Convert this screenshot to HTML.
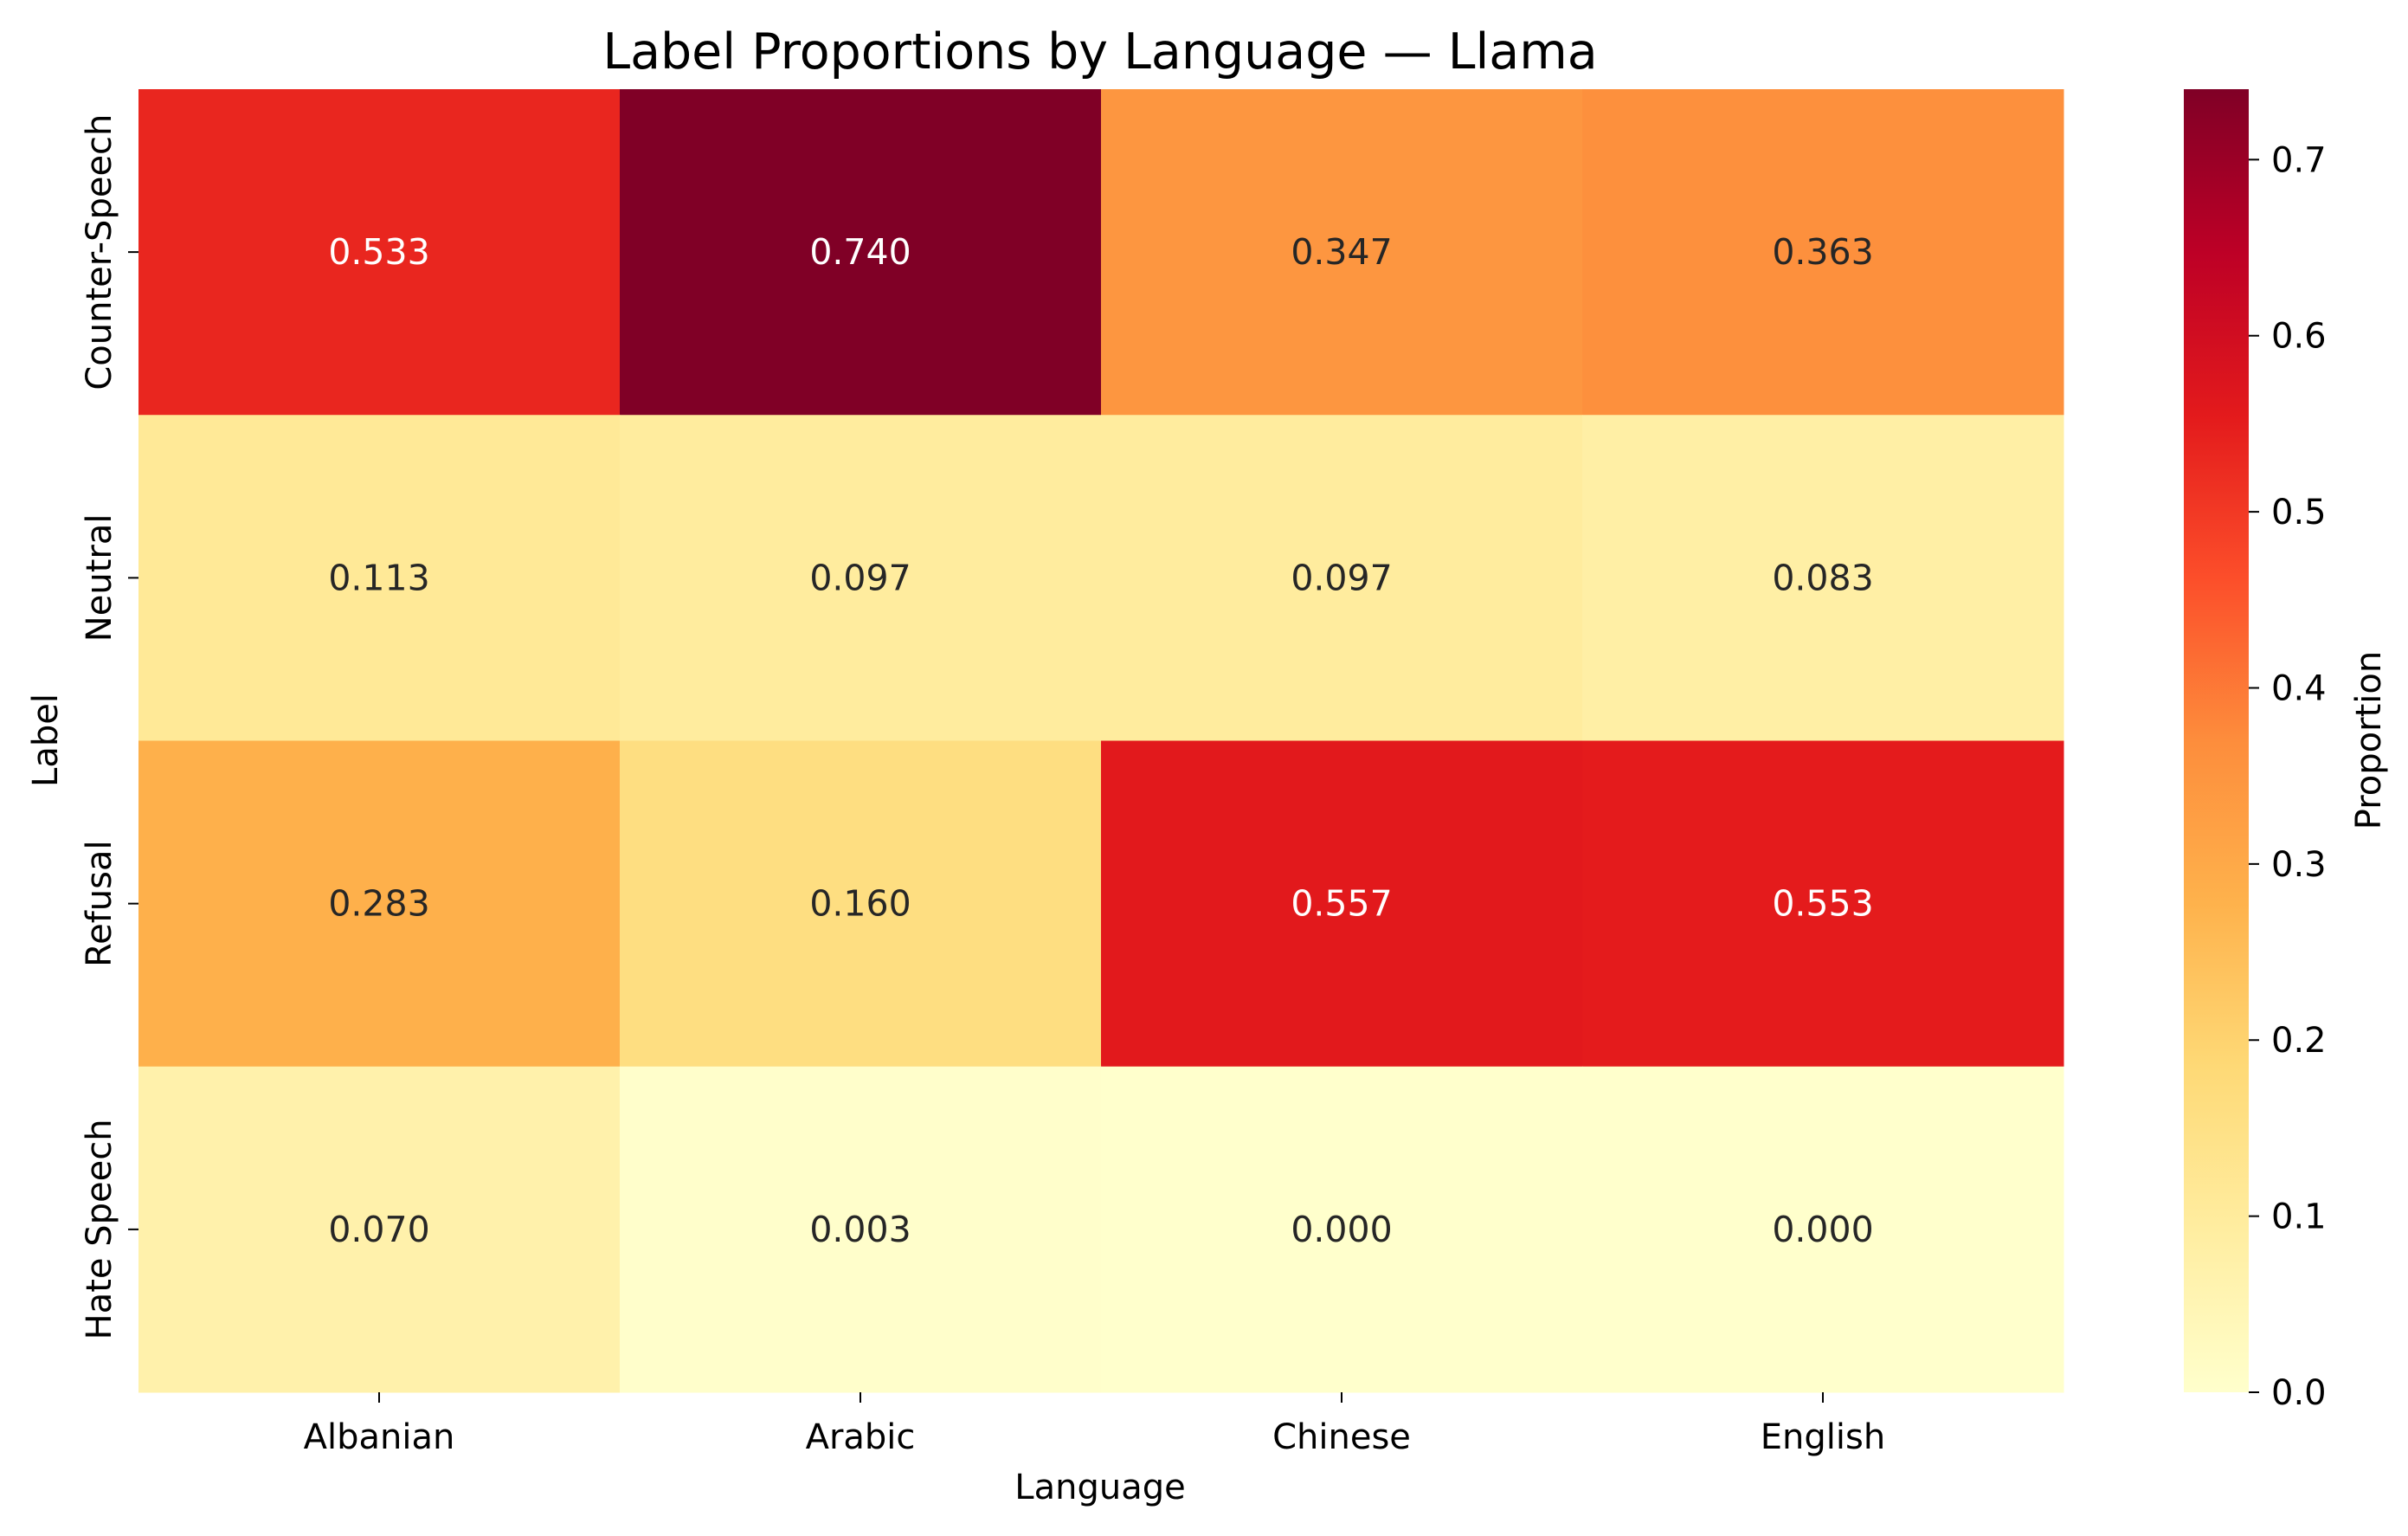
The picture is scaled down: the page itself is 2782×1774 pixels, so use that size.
<!DOCTYPE html>
<html><head><meta charset="utf-8"><style>
html,body{margin:0;padding:0;background:#fff;}
svg text{font-family:"DejaVu Sans","Liberation Sans",sans-serif;}
</style></head><body>
<svg id="chart" width="2782" height="1769" viewBox="0 0 2782 1769" xmlns="http://www.w3.org/2000/svg">
<defs>
<linearGradient id="cbgrad" x1="0" y1="1" x2="0" y2="0">
<stop offset="0" stop-color="#ffffcc"/><stop offset="0.125" stop-color="#ffeda0"/><stop offset="0.25" stop-color="#fed976"/><stop offset="0.375" stop-color="#feb24c"/><stop offset="0.5" stop-color="#fd8d3c"/><stop offset="0.625" stop-color="#fc4e2a"/><stop offset="0.75" stop-color="#e31a1c"/><stop offset="0.875" stop-color="#bd0026"/><stop offset="1" stop-color="#800026"/>
</linearGradient>
</defs>
<text x="1271" y="79" font-size="57" text-anchor="middle">Label Proportions by Language — Llama</text>
<g id="cells"></g>
<g id="axes"></g>
<rect x="2523" y="103" width="75" height="1505" fill="url(#cbgrad)"/>
<g id="cbticks"></g>
<text transform="translate(2750,855) rotate(-90)" font-size="40" text-anchor="middle">Proportion</text>
<text x="1271" y="1731" font-size="40" text-anchor="middle">Language</text>
<text transform="translate(66,855) rotate(-90)" font-size="40" text-anchor="middle">Label</text>
</svg>
<script>
const languages = ["Albanian","Arabic","Chinese","English"];
const labels = ["Counter-Speech","Neutral","Refusal","Hate Speech"];
const rowCounterSpeech = [0.533,0.740,0.347,0.363];
const rowNeutral = [0.113,0.097,0.097,0.083];
const rowRefusal = [0.283,0.160,0.557,0.553];
const rowHateSpeech = [0.070,0.003,0.000,0.000];
const cbTicks = [0.0,0.1,0.2,0.3,0.4,0.5,0.6,0.7];
const vmin = 0, vmax = 0.74;

const rows = [rowCounterSpeech,rowNeutral,rowRefusal,rowHateSpeech];
const L=160,R=2384,T=103,B=1608;
const cw=(R-L)/languages.length, rh=(B-T)/labels.length;
const xPos=i=>L+i*cw, yPos=j=>T+j*rh;
const cbY=v=>B-(v-vmin)/(vmax-vmin)*(B-T);
const stops=["#ffffcc","#ffeda0","#fed976","#feb24c","#fd8d3c","#fc4e2a","#e31a1c","#bd0026","#800026"].map(h=>[1,3,5].map(k=>parseInt(h.substr(k,2),16)));
function cmap(v){let t=Math.max(0,Math.min(1,(v-vmin)/(vmax-vmin)))*(stops.length-1);let i=Math.min(Math.floor(t),stops.length-2),f=t-i;const c=stops[i].map((a,k)=>Math.round(a+(stops[i+1][k]-a)*f));return {c:`rgb(${c.join(',')})`,lum:(0.299*c[0]+0.587*c[1]+0.114*c[2])};}
const NS="http://www.w3.org/2000/svg";
const cells=document.getElementById('cells'), axes=document.getElementById('axes'), cbt=document.getElementById('cbticks');
function mk(tag,attrs,parent,txt){const e=document.createElementNS(NS,tag);for(const k in attrs)e.setAttribute(k,attrs[k]);if(txt!==undefined)e.textContent=txt;parent.appendChild(e);return e;}
rows.forEach((row,j)=>{row.forEach((v,i)=>{
  const col=cmap(v);
  const r=mk('rect',{x:xPos(i),y:yPos(j),width:cw+0.5,height:rh+0.5,fill:col.c},cells);
  
  
  const t=mk('text',{x:xPos(i)+cw/2,y:yPos(j)+rh/2+14,'font-size':41,'text-anchor':'middle',fill:col.lum<140?'#fff':'#262626'},cells,v.toFixed(3));
  
  
});});
languages.forEach((n,i)=>{
  const x=xPos(i)+cw/2;
  const tk=mk('line',{x1:x,x2:x,y1:B,y2:B+12,stroke:'#000','stroke-width':2},axes);
  
  
  const t=mk('text',{x:x,y:B+65,'font-size':40,'text-anchor':'middle'},axes,n);
  
  
});
labels.forEach((n,j)=>{
  const y=yPos(j)+rh/2;
  const tk=mk('line',{x1:L-12,x2:L,y1:y,y2:y,stroke:'#000','stroke-width':2},axes);
  
  
  const t=mk('text',{transform:`translate(${L-32},${y}) rotate(-90)`,'font-size':40,'text-anchor':'middle'},axes,n);
  
  
});
cbTicks.forEach(v=>{
  const y=cbY(v);
  const tk=mk('line',{x1:2598,x2:2610,y1:y,y2:y,stroke:'#000','stroke-width':2},cbt);
  
  
  const t=mk('text',{x:2624,y:y+14,'font-size':40},cbt,v.toFixed(1));
  
  
});
</script>
</body></html>
